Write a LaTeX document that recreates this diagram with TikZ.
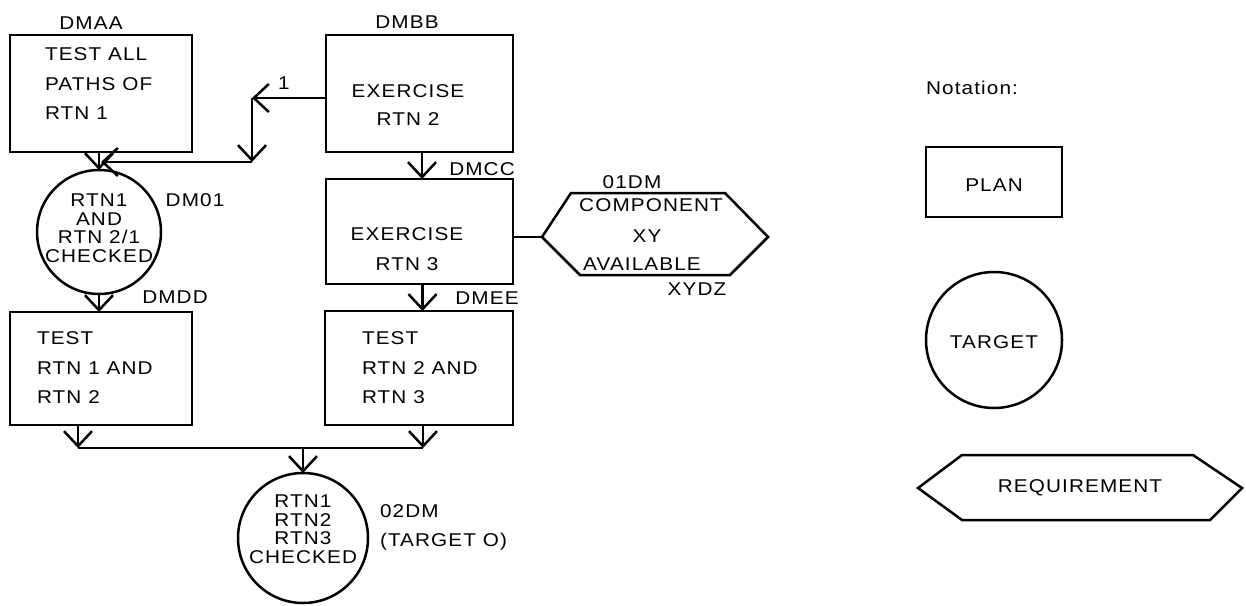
\documentclass[tikz,border=0pt]{standalone}
\usepackage{fontspec}
\setmainfont{Liberation Sans}[FakeStretch=1.12,LetterSpace=6]
\usetikzlibrary{arrows.meta}
\begin{document}
\begin{tikzpicture}[x=1pt,y=-1pt,
  every node/.style={inner sep=0pt,outer sep=0pt},
  ln/.style={line width=2.5pt,line join=miter},
  arr/.style={ln,-{Straight Barb[length=15pt,width=28pt,line width=2.5pt]}},
  box/.style={draw,ln,rectangle},
  tgt/.style={draw,ln,circle},
  txt/.style={font=\fontsize{18.5}{29.5}\selectfont},
  ctxt/.style={font=\fontsize{18.5}{18.5}\selectfont,align=center},
  lbl/.style={font=\fontsize{18.5}{22}\selectfont}]
\useasboundingbox[fill=white] (0,0) rectangle (1246,605);

% plan boxes
\node[box,minimum width=182pt,minimum height=117pt] (DMAA) at (101,93.5) {};
\node[box,minimum width=187pt,minimum height=117pt] (DMBB) at (419.5,93.5) {};
\node[box,minimum width=187pt,minimum height=105pt] (DMCC) at (419.5,231.5) {};
\node[box,minimum width=182pt,minimum height=113pt] (DMDD) at (101,368.5) {};
\node[box,minimum width=188pt,minimum height=114pt] (DMEE) at (419,368) {};

\node[txt,align=left,anchor=west] (tAA) at (45,84) {TEST ALL\\PATHS OF\\RTN 1};
\node[txt,align=center,font=\fontsize{18.5}{28}\selectfont] (tBB) at (408,105) {EXERCISE\\RTN 2};
\node[txt,align=center,font=\fontsize{18.5}{30}\selectfont] (tCC) at (407,249) {EXERCISE\\RTN 3};
\node[txt,align=left,anchor=west] (tDD) at (37,368) {TEST\\RTN 1 AND\\RTN 2};
\node[txt,align=left,anchor=west] (tEE) at (362,368) {TEST\\RTN 2 AND\\RTN 3};

% labels
\node[lbl] (lAA) at (91,23) {DMAA};
\node[lbl] (lBB) at (407,22) {DMBB};
\node[lbl] (lCC) at (482,169) {DMCC};
\node[lbl] (lDD) at (175,297) {DMDD};
\node[lbl] (lEE) at (487,298) {DMEE};
\node[lbl] (l01) at (195,200) {DM01};
\node[lbl] (one) at (284,83) {1};

% targets
\node[tgt,minimum size=124pt] (T1) at (99,232) {};
\node[ctxt] (tT1) at (99,228) {RTN1\\AND\\RTN 2/1\\CHECKED};
\node[tgt,minimum size=130pt] (T0) at (303,538) {};
\node[ctxt] (tT0) at (303,529) {RTN1\\RTN2\\RTN3\\CHECKED};
\node[lbl,anchor=west] (l02) at (380,511) {02DM};
\node[lbl,anchor=west] (lTO) at (380,542) {(TARGET O)};

% requirement
\coordinate (hL) at (542,237);
\coordinate (hTL) at (571,193);
\coordinate (hTR) at (725,193);
\coordinate (hR) at (768,237);
\coordinate (hBR) at (730,275);
\coordinate (hBL) at (580,275);
\draw[ln] (hL) -- (hTL) -- (hTR) -- (hR) -- (hBR) -- (hBL) -- cycle;
\node[lbl] (l01DM) at (632,182) {01DM};
\node[lbl] (tR1) at (651,205) {COMPONENT};
\node[lbl] (tR2) at (647,236) {XY};
\node[lbl] (tR3) at (642,264) {AVAILABLE};
\node[lbl] (lXY) at (697,289) {XYDZ};

% connectors
\coordinate (c1) at (252,98);
\coordinate (c2) at (252,162);
\coordinate (c3) at (101,162);
\draw[arr] (DMBB.west |- c1) -- (c1);
\draw[arr] (c1) -- (c2);
\draw[arr] (c2) -- (c3);
\draw[arr] (DMAA.south -| T1) -- (T1.north);
\draw[arr] (T1.south) -- (T1.south |- DMDD.north);
\draw[arr] ([xshift=2.5pt]DMBB.south) -- ([xshift=2.5pt]DMCC.north);
\draw[arr] ([xshift=3pt]DMCC.south) -- ([xshift=3pt]DMCC.south |- DMEE.north);
\draw[ln] (DMCC.east |- hL) -- (hL);

\coordinate (jl) at (78,448);
\coordinate (jr) at (423,448);
\coordinate (jm) at (303,448);
\draw[arr] (DMDD.south -| jl) -- (jl);
\draw[arr] (DMEE.south -| jr) -- (jr);
\draw[ln] (jl) -- (jr);
\draw[arr] (jm) -- (T0.north);

% notation
\node[lbl] (nota) at (972,88) {Notation:};
\node[box,minimum width=136pt,minimum height=70pt] (plan) at (994,182) {};
\node[lbl] (tplan) at (994,185) {PLAN};
\node[tgt,minimum size=136pt] (target) at (994,340) {};
\node[lbl] (ttarget) at (994,342) {TARGET};
\coordinate (qL) at (918,488);
\coordinate (qTL) at (962,455);
\coordinate (qTR) at (1193,455);
\coordinate (qR) at (1242,488);
\coordinate (qBR) at (1210,520);
\coordinate (qBL) at (962,520);
\draw[ln] (qL) -- (qTL) -- (qTR) -- (qR) -- (qBR) -- (qBL) -- cycle;
\node[lbl] (treq) at (1080,488) {REQUIREMENT};
\end{tikzpicture}
\end{document}
